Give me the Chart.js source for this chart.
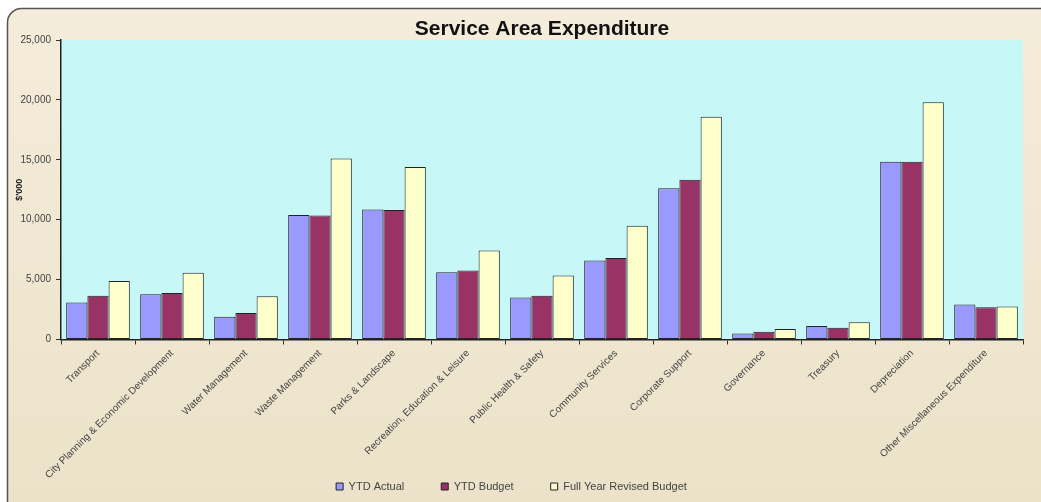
<!DOCTYPE html>
<html>
<head>
<meta charset="utf-8">
<script src="https://cdn.jsdelivr.net/npm/chart.js@4/dist/chart.umd.min.js"></script>
<style>
  html, body { margin: 0; padding: 0; background: #fff; }
  #wrap { width: 1041px; height: 502px; }
</style>
</head>
<body>
<div id="wrap"><canvas id="expenditure-chart" width="1041" height="502"></canvas></div>
<script>
const services = [
  'Transport',
  'City Planning & Economic Development',
  'Water Management',
  'Waste Management',
  'Parks & Landscape',
  'Recreation, Education & Leisure',
  'Public Health & Safety',
  'Community Services',
  'Corporate Support',
  'Governance',
  'Treasury',
  'Depreciation',
  'Other Miscellaneous Expenditure'
];
const ytd_actual = [3080, 3770, 1890, 10400, 10850, 5620, 3500, 6590, 12620, 510, 1120, 14830, 2920];
const ytd_budget = [3660, 3880, 2220, 10350, 10800, 5760, 3660, 6810, 13330, 650, 980, 14830, 2700];
const full_year_revised = [4880, 5570, 3610, 15100, 14400, 7420, 5350, 9490, 18590, 870, 1430, 19800, 2750];
const y_ticks = [0, 5000, 10000, 15000, 20000, 25000];

// beige rounded panel behind everything, cyan plot area
const backdrop = {
  id: 'backdrop',
  beforeDraw(chart) {
    const { ctx, width, height, chartArea } = chart;
    ctx.save();
    ctx.fillStyle = '#ffffff';
    ctx.fillRect(0, 0, width, height);
    const g = ctx.createLinearGradient(0, 0, 0, height);
    g.addColorStop(0, '#f5eddb');
    g.addColorStop(1, '#ebe2c9');
    ctx.beginPath();
    ctx.roundRect(7.5, 8.5, width + 20, height + 20, 14);
    ctx.fillStyle = g;
    ctx.fill();
    ctx.strokeStyle = '#555';
    ctx.lineWidth = 1.5;
    ctx.stroke();
    ctx.fillStyle = '#c8f7f8';
    ctx.fillRect(chartArea.left, chartArea.top, chartArea.right - chartArea.left, chartArea.bottom - chartArea.top);
    ctx.restore();
  }
};

const barStyle = { borderColor: '#222', borderWidth: 1, borderSkipped: false, barPercentage: 1, categoryPercentage: 0.86 };
const font = 'Liberation Sans, Arial, sans-serif';

new Chart(document.getElementById('expenditure-chart'), {
  type: 'bar',
  plugins: [backdrop],
  data: {
    labels: services,
    datasets: [
      { label: 'YTD Actual', data: ytd_actual, backgroundColor: '#9999ff', ...barStyle },
      { label: 'YTD Budget', data: ytd_budget, backgroundColor: '#993366', ...barStyle },
      { label: 'Full Year Revised Budget', data: full_year_revised, backgroundColor: '#ffffcc', ...barStyle }
    ]
  },
  options: {
    responsive: false,
    animation: false,
    layout: { padding: { left: 0, right: 18, top: 0, bottom: 0 } },
    plugins: {
      title: {
        display: true,
        fullSize: false,
        text: 'Service Area Expenditure',
        color: '#111',
        font: { family: font, size: 21, weight: 'bold', lineHeight: 1 },
        padding: { top: 19, bottom: 0 }
      },
      legend: {
        position: 'bottom',
        labels: {
          boxWidth: 7,
          boxHeight: 7,
          padding: 37,
          color: '#444',
          font: { family: font, size: 11 }
        }
      },
      tooltip: { enabled: false }
    },
    scales: {
      x: {
        grid: { display: true, drawOnChartArea: false, drawTicks: true, tickLength: 5, color: '#333', offset: true },
        border: { display: true, color: '#222', width: 1.5 },
        ticks: {
          autoSkip: false,
          minRotation: 45,
          maxRotation: 45,
          padding: 3,
          color: '#444',
          font: { family: font, size: 10 }
        },
        afterFit(scale) {
          scale.height = 104.5;
          // long rotated names run down past the axis box, don't clip them
          scale._computeLabelArea = () => undefined;
        }
      },
      y: {
        min: 0,
        max: 25000,
        afterBuildTicks(scale) { scale.ticks = y_ticks.map(v => ({ value: v })); },
        grid: { display: true, drawOnChartArea: false, drawTicks: true, tickLength: 5, color: '#333' },
        border: { display: true, color: '#222', width: 1.5 },
        title: {
          display: true,
          text: "$'000",
          color: '#222',
          font: { family: font, size: 9, weight: 'bold' },
          padding: { top: 14, bottom: 0 }
        },
        ticks: {
          padding: 5,
          color: '#444',
          font: { family: font, size: 10 },
          callback: v => v.toLocaleString('en-US')
        },
        afterFit(scale) { scale.width = 61; }
      }
    }
  }
});
</script>
</body>
</html>
